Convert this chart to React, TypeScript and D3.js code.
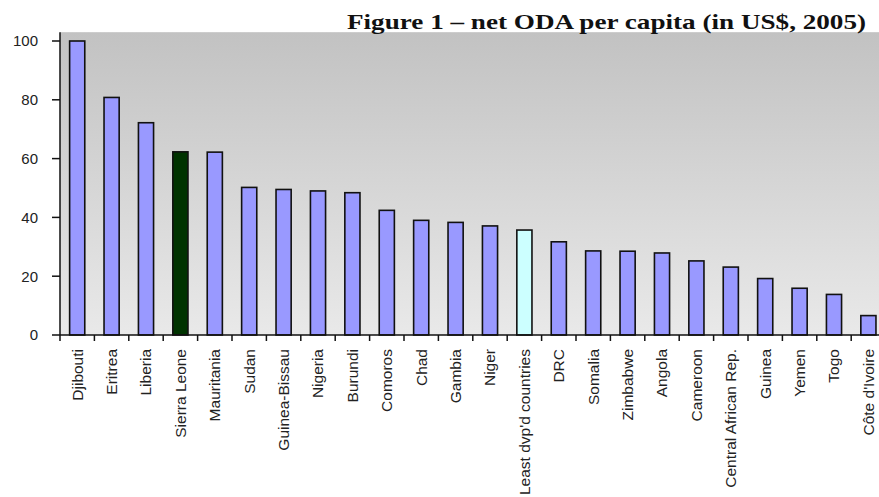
import React from "react";
import * as d3 from "d3";

const categories = [
  "Djibouti", "Eritrea", "Liberia", "Sierra Leone", "Mauritania", "Sudan",
  "Guinea-Bissau", "Nigeria", "Burundi", "Comoros", "Chad", "Gambia", "Niger",
  "Least dvp'd countries", "DRC", "Somalia", "Zimbabwe", "Angola", "Cameroon",
  "Central African Rep.", "Guinea", "Yemen", "Togo", "Côte d'Ivoire",
];
const values = [
  100, 80.8, 72.2, 62.3, 62.2, 50.2, 49.5, 49, 48.4, 42.4, 39, 38.3, 37.1,
  35.7, 31.7, 28.6, 28.5, 27.9, 25.2, 23.1, 19.2, 15.9, 13.8, 6.6,
];
const highlight: Record<string, string> = {
  "Sierra Leone": "#003300",
  "Least dvp'd countries": "#ccffff",
};
const yTicks = [0, 20, 40, 60, 80, 100];
const title = "Figure 1 \u2013 net ODA per capita (in US$, 2005)";

const W = 879;
const H = 497;
const left = 60;
const step = 34.4;
const y0 = 335;
const y100 = 41;

export default function App() {
  const x = d3
    .scaleBand<string>()
    .domain(categories)
    .range([left, left + step * categories.length])
    .paddingInner(0.56)
    .paddingOuter(0.28);
  const y = d3.scaleLinear().domain([0, 100]).range([y0, y100]);
  const plotTop = y(103);
  const sans = "'Liberation Sans', Arial, sans-serif";

  return (
    <svg
      width={W}
      height={H}
      style={{ position: "fixed", left: 0, top: 0, background: "#fff" }}
    >
      <defs>
        <linearGradient id="bg" x1="0" y1="0" x2="0" y2="1">
          <stop offset="0" stopColor="#c2c2c2" />
          <stop offset="1" stopColor="#e9e9e9" />
        </linearGradient>
      </defs>
      <rect x={left} y={plotTop} width={W - left} height={y0 - plotTop} fill="url(#bg)" />
      <text
        x={347}
        y={29}
        textLength={519}
        lengthAdjust="spacingAndGlyphs"
        fontFamily="'Liberation Serif', 'Times New Roman', serif"
        fontWeight="bold"
        fontSize={21}
        fill="#111"
      >
        {title}
      </text>
      {categories.map((c, i) => (
        <rect
          key={c}
          x={x(c)}
          y={y(values[i])}
          width={x.bandwidth()}
          height={y0 - y(values[i])}
          fill={highlight[c] ?? "#9999ff"}
          stroke="#111"
          strokeWidth={1.6}
        />
      ))}
      {/* y axis */}
      <line x1={left} x2={left} y1={plotTop} y2={y0} stroke="#111" strokeWidth={1.5} />
      {yTicks.map((t) => (
        <g key={t}>
          <line x1={left - 8} x2={left} y1={y(t)} y2={y(t)} stroke="#111" strokeWidth={1.5} />
          <text
            x={38}
            y={y(t)}
            dy="0.36em"
            textAnchor="end"
            fontFamily={sans}
            fontSize={15}
            fill="#222"
          >
            {t}
          </text>
        </g>
      ))}
      {/* x axis */}
      <line x1={left} x2={W} y1={y0} y2={y0} stroke="#111" strokeWidth={1.5} />
      {categories.map((c) => (
        <line
          key={"t" + c}
          x1={(x(c) as number) - x.step() * 0.28}
          x2={(x(c) as number) - x.step() * 0.28}
          y1={y0}
          y2={y0 + 6}
          stroke="#111"
          strokeWidth={1.5}
        />
      ))}
      {categories.map((c) => {
        const cx = (x(c) as number) + x.bandwidth() / 2;
        return (
          <text
            key={"l" + c}
            transform={`translate(${cx},${y0 + 14}) rotate(-90)`}
            textAnchor="end"
            dy="0.35em"
            fontFamily={sans}
            fontSize={15.5}
            fill="#222"
          >
            {c}
          </text>
        );
      })}
    </svg>
  );
}
